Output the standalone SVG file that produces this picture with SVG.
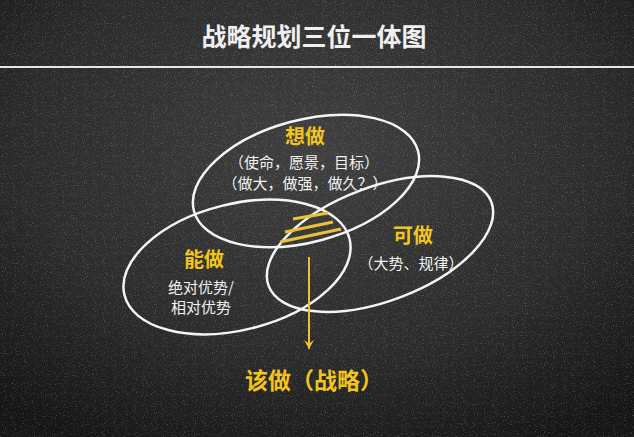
<svg xmlns="http://www.w3.org/2000/svg" width="634" height="437" viewBox="0 0 634 437">
  <defs>
    <radialGradient id="bg" cx="0.5" cy="0.35" r="0.75">
      <stop offset="0" stop-color="#3f3f3f"/>
      <stop offset="0.6" stop-color="#2c2c2c"/>
      <stop offset="1" stop-color="#161616"/>
    </radialGradient>
    <filter id="grain" x="0" y="0" width="100%" height="100%">
      <feTurbulence type="fractalNoise" baseFrequency="0.9" numOctaves="2" seed="3" result="n"/>
      <feColorMatrix type="matrix" values="0 0 0 0 1  0 0 0 0 1  0 0 0 0 1  0 0 0 1.8 -1.0" />
    </filter>
    <marker id="arrow" viewBox="0 0 12 12" refX="11" refY="6" markerWidth="12" markerHeight="12" markerUnits="userSpaceOnUse" orient="auto">
      <path d="M2,1 L11,6 L2,11 L5.5,6 Z" fill="#e9c238"/>
    </marker>
    <style>
      .ring { fill: none; stroke: #f4f4f4; stroke-width: 2.5; }
      .head { font-family: "Noto Sans CJK SC", "Noto Sans", sans-serif; font-weight: 700; fill: #f2c51c; text-anchor: middle; }
      .body { font-family: "Noto Sans CJK SC", "Noto Sans", sans-serif; font-weight: 400; fill: #f2f2f2; text-anchor: middle; font-size: 15px; }
      .hatch { stroke: #e9c238; stroke-width: 3.2; stroke-linecap: butt; }
    </style>
  </defs>

  <rect x="0" y="0" width="634" height="437" fill="url(#bg)"/>
  <rect x="0" y="0" width="634" height="437" filter="url(#grain)" opacity="0.4"/>

  <g id="title">
    <text x="314" y="46" font-family="Noto Sans CJK SC, sans-serif" font-weight="700" font-size="25" fill="#f0f0f0" text-anchor="middle">战略规划三位一体图</text>
    <line x1="0" y1="67" x2="634" y2="67" stroke="#e6e6e6" stroke-width="2.2"/>
  </g>

  <g id="node-want">
    <ellipse class="ring" cx="306" cy="181" rx="116" ry="61" transform="rotate(-15 306 181)"/>
    <text class="head" x="305" y="144" font-size="20">想做</text>
    <text class="body" x="304" y="168">（使命，愿景，目标）</text>
    <text class="body" x="305" y="189">（做大，做强，做久？）</text>
  </g>

  <g id="node-can">
    <ellipse class="ring" cx="237" cy="267" rx="116" ry="63" transform="rotate(-14 237 267)"/>
    <text class="head" x="204" y="267" font-size="20">能做</text>
    <text class="body" x="201" y="293">绝对优势/</text>
    <text class="body" x="201" y="313">相对优势</text>
  </g>

  <g id="node-may">
    <ellipse class="ring" cx="380" cy="244" rx="119" ry="57" transform="rotate(-20.6 380 244)"/>
    <text class="head" x="413" y="243" font-size="20">可做</text>
    <text class="body" x="411" y="269">（大势、规律）</text>
  </g>

  <g id="node-should">
    <line class="hatch" x1="293" y1="219" x2="328" y2="213"/>
    <line class="hatch" x1="285" y1="232" x2="333" y2="222"/>
    <line class="hatch" x1="280" y1="242" x2="341" y2="229"/>
    <text class="head" x="314" y="389" font-size="23">该做（战略）</text>
  </g>

  <g id="connectors">
    <line x1="309" y1="257" x2="309" y2="349" stroke="#e9c238" stroke-width="2" marker-end="url(#arrow)"/>
  </g>
</svg>
